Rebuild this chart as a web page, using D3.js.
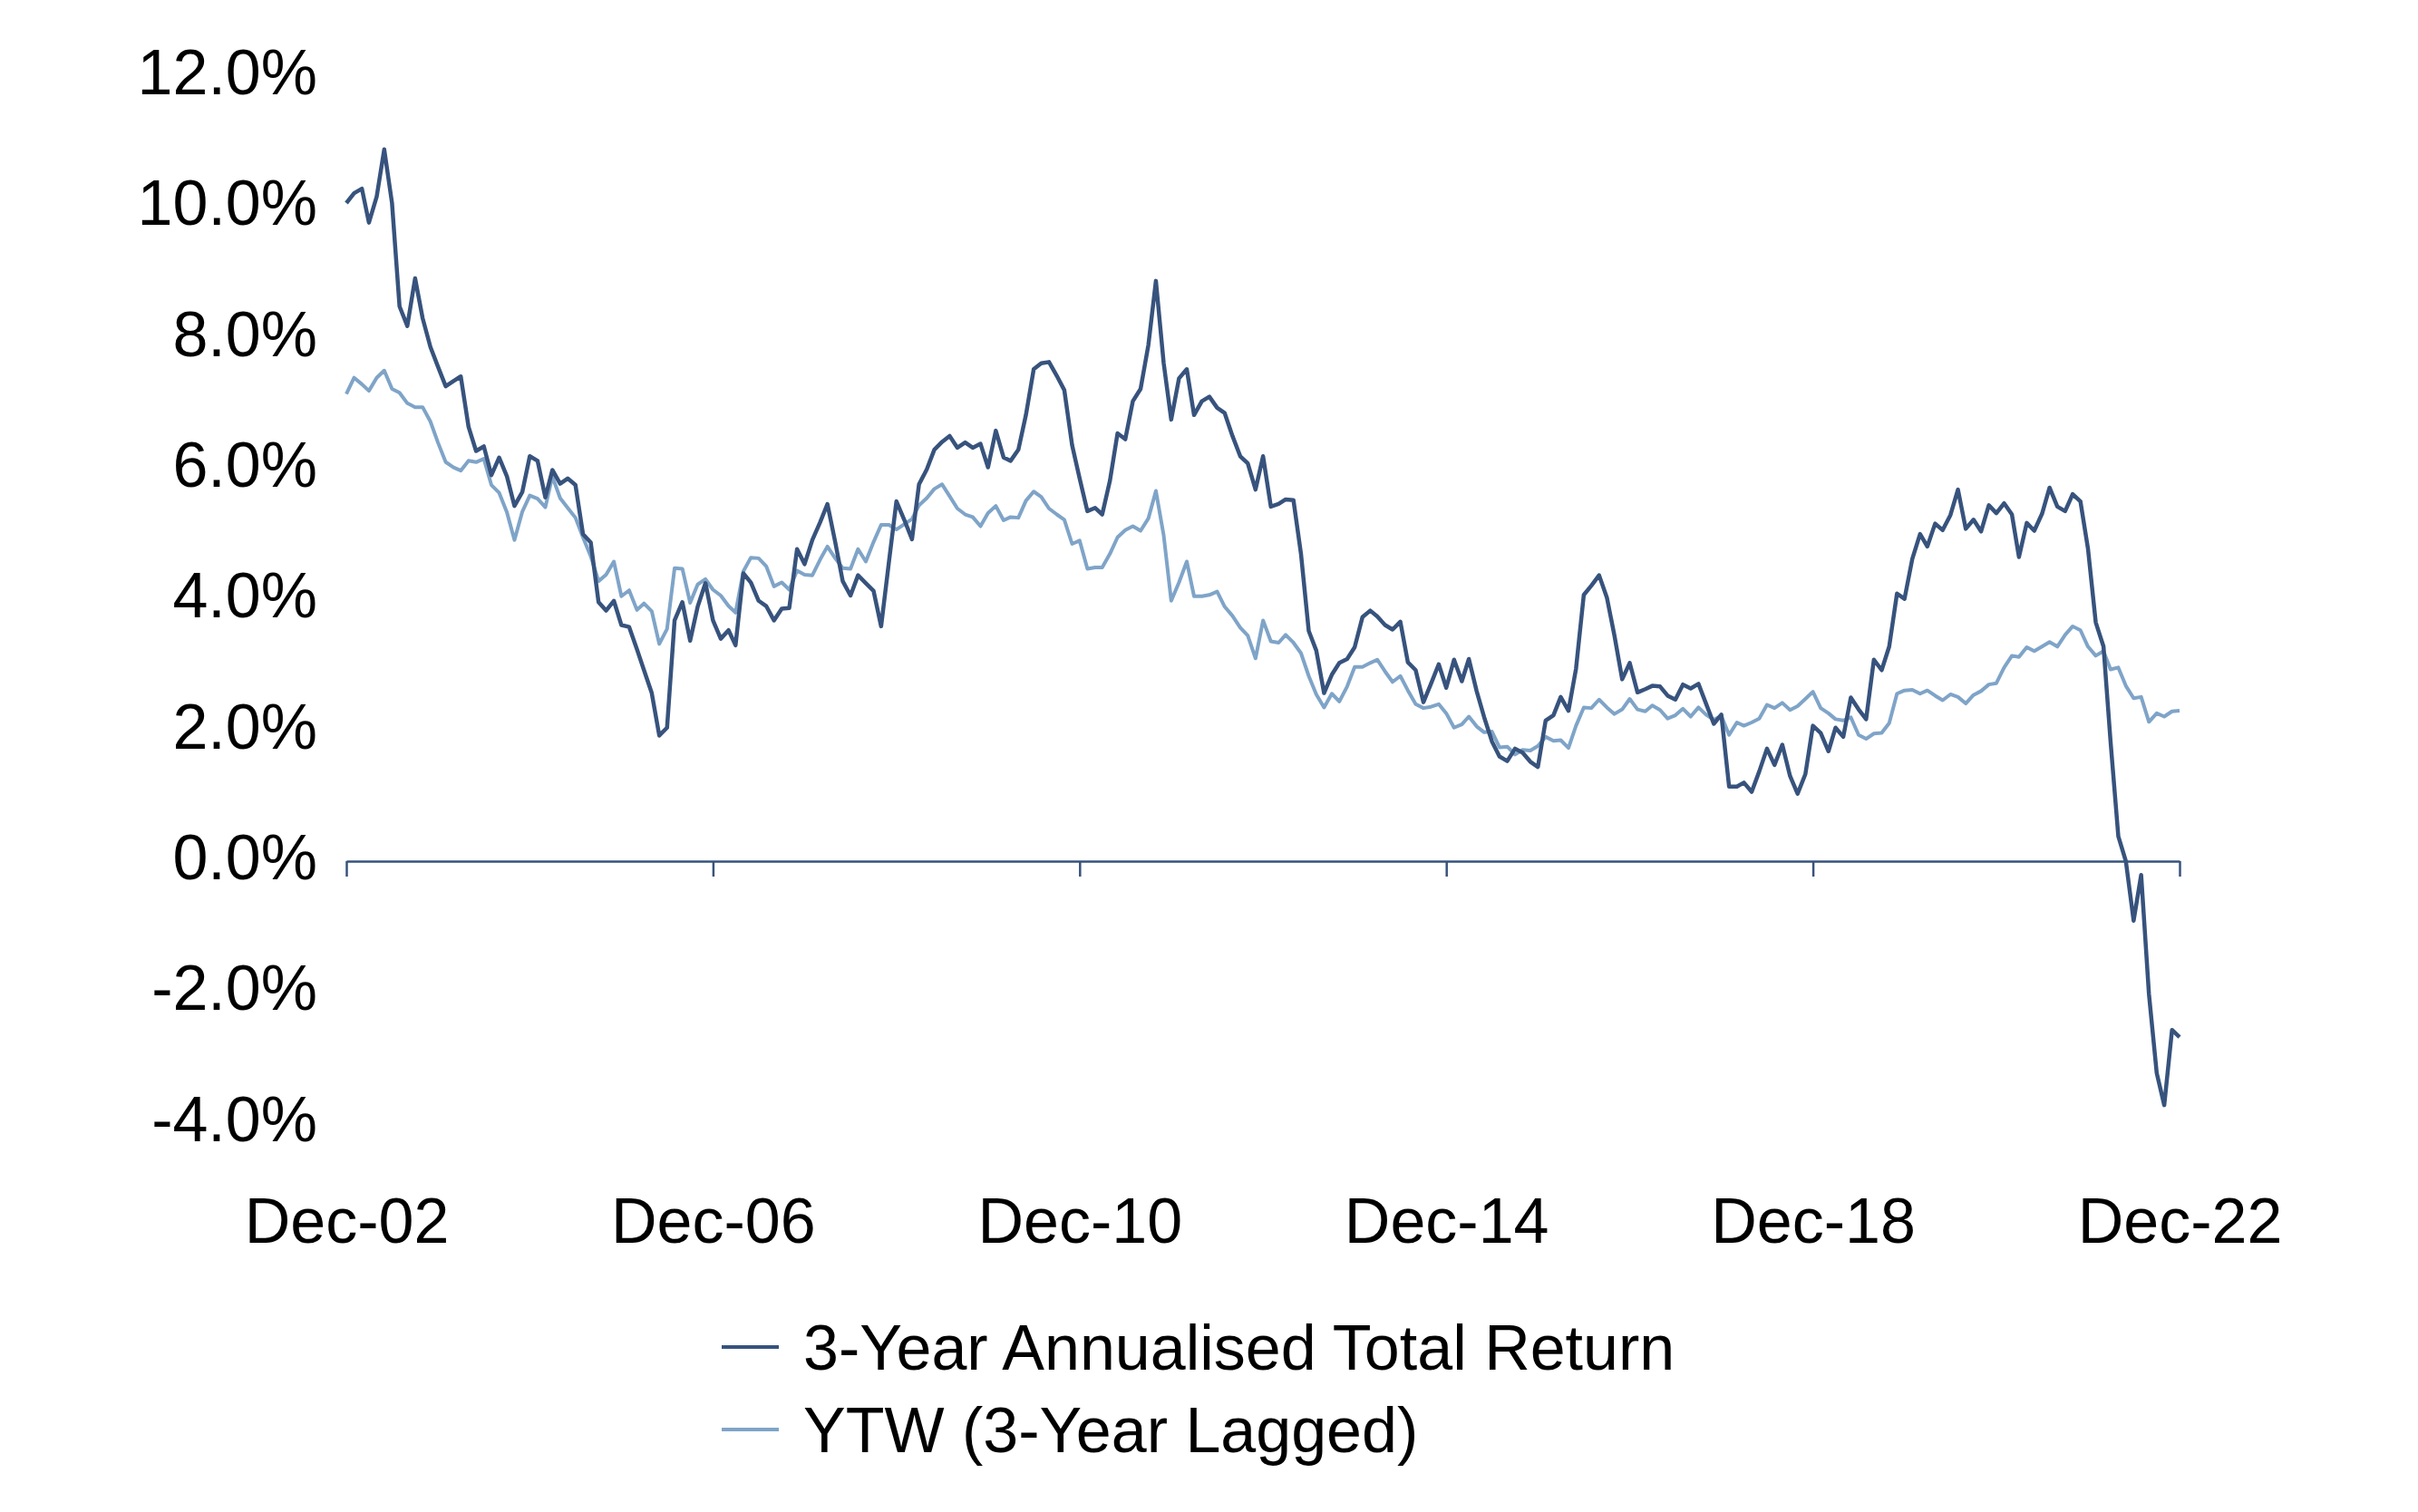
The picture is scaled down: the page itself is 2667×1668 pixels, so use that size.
<!DOCTYPE html>
<html>
<head>
<meta charset="utf-8">
<script src="https://cdn.jsdelivr.net/npm/d3@7"></script>
<style>
  body { margin: 0; background: #fff; }
  text { font-family: "Liberation Sans", Arial, sans-serif; fill: #000; }
</style>
</head>
<body>
<script>
// monthly observations, Dec-02 .. Dec-22
var startMonth = new Date(2002, 11, 1);

var totalReturn = [
  10.06, 10.21, 10.28, 9.76, 10.16, 10.88, 10.06, 8.48, 8.18, 8.91, 8.30, 7.86,
  7.56, 7.26, 7.34, 7.41, 6.64, 6.27, 6.34, 5.90, 6.17, 5.88, 5.43, 5.64,
  6.19, 6.12, 5.56, 5.98, 5.77, 5.85, 5.75, 5.00, 4.87, 3.96, 3.83, 3.98,
  3.61, 3.58, 3.24, 2.92, 2.57, 1.92, 2.04, 3.68, 3.96, 3.37, 3.89, 4.25,
  3.68, 3.40, 3.53, 3.30, 4.40, 4.26, 3.98, 3.90, 3.68, 3.86, 3.87, 4.77,
  4.54, 4.91, 5.18, 5.46, 4.88, 4.28, 4.06, 4.37, 4.25, 4.13, 3.59, 4.57,
  5.50, 5.22, 4.92, 5.76, 5.99, 6.29, 6.41, 6.50, 6.32, 6.40, 6.32, 6.38,
  6.02, 6.58, 6.17, 6.12, 6.29, 6.82, 7.52, 7.61, 7.63, 7.42, 7.20, 6.36,
  5.85, 5.35, 5.40, 5.30, 5.82, 6.54, 6.45, 7.03, 7.22, 7.89, 8.87, 7.61,
  6.75, 7.38, 7.52, 6.82, 7.03, 7.10, 6.93, 6.85, 6.50, 6.19, 6.08, 5.68,
  6.19, 5.42, 5.46, 5.53, 5.52, 4.70, 3.52, 3.22, 2.57, 2.85, 3.03, 3.09,
  3.27, 3.73, 3.83, 3.74, 3.61, 3.54, 3.66, 3.04, 2.92, 2.43, 2.71, 3.01,
  2.65, 3.08, 2.75, 3.09, 2.60, 2.20, 1.83, 1.60, 1.53, 1.72, 1.66, 1.52,
  1.44, 2.15, 2.23, 2.51, 2.30, 2.94, 4.07, 4.21, 4.37, 4.03, 3.45, 2.78,
  3.03, 2.58, 2.63, 2.68, 2.67, 2.53, 2.47, 2.70, 2.64, 2.71, 2.41, 2.10,
  2.24, 1.14, 1.14, 1.20, 1.06, 1.37, 1.72, 1.47, 1.78, 1.30, 1.03, 1.33,
  2.07, 1.96, 1.68, 2.04, 1.90, 2.50, 2.32, 2.17, 3.08, 2.92, 3.28, 4.09,
  4.01, 4.62, 5.00, 4.81, 5.16, 5.06, 5.29, 5.68, 5.08, 5.22, 5.04, 5.44,
  5.32, 5.47, 5.30, 4.65, 5.17, 5.05, 5.31, 5.71, 5.42, 5.35, 5.61, 5.50,
  4.78, 3.65, 3.28, 1.83, 0.38, 0.00, -0.91, -0.21, -2.03, -3.24, -3.73, -2.58,
  -2.69
];

var ytwLagged = [
  7.14, 7.39, 7.29, 7.19, 7.39, 7.50, 7.22, 7.16, 7.00, 6.94, 6.94, 6.72,
  6.40, 6.10, 6.02, 5.97, 6.12, 6.10, 6.15, 5.75, 5.63, 5.33, 4.91, 5.34,
  5.59, 5.54, 5.41, 5.88, 5.55, 5.40, 5.25, 4.95, 4.66, 4.28, 4.38, 4.58,
  4.05, 4.14, 3.84, 3.94, 3.82, 3.32, 3.55, 4.48, 4.47, 3.95, 4.23, 4.31,
  4.15, 4.06, 3.90, 3.80, 4.43, 4.64, 4.63, 4.51, 4.20, 4.26, 4.15, 4.44,
  4.38, 4.37, 4.61, 4.81, 4.63, 4.48, 4.47, 4.77, 4.58, 4.88, 5.14, 5.14,
  5.07, 5.15, 5.23, 5.44, 5.55, 5.69, 5.76, 5.58, 5.39, 5.30, 5.26, 5.12,
  5.32, 5.43, 5.21, 5.26, 5.25, 5.51, 5.65, 5.57, 5.39, 5.30, 5.22, 4.85,
  4.90, 4.47, 4.49, 4.49, 4.70, 4.95, 5.06, 5.12, 5.05, 5.24, 5.66, 4.98,
  3.98, 4.26, 4.58, 4.05, 4.05, 4.07, 4.12, 3.89, 3.75, 3.57, 3.45, 3.10,
  3.68, 3.36, 3.34, 3.46, 3.34, 3.18, 2.83, 2.55, 2.35, 2.56, 2.44, 2.67,
  2.97, 2.97, 3.03, 3.08, 2.90, 2.74, 2.83, 2.61, 2.40, 2.34, 2.36, 2.40,
  2.26, 2.04, 2.09, 2.21, 2.06, 1.97, 1.98, 1.74, 1.75, 1.63, 1.70, 1.69,
  1.76, 1.90, 1.84, 1.85, 1.73, 2.07, 2.35, 2.34, 2.47, 2.35, 2.25, 2.32,
  2.48, 2.32, 2.29, 2.38, 2.31, 2.18, 2.23, 2.33, 2.21, 2.35, 2.24, 2.16,
  2.22, 1.93, 2.12, 2.07, 2.12, 2.18, 2.39, 2.34, 2.42, 2.31, 2.37, 2.48,
  2.59, 2.34, 2.26, 2.17, 2.15, 2.20, 1.93, 1.87, 1.95, 1.96, 2.11, 2.56,
  2.61, 2.62, 2.56, 2.61, 2.53, 2.46, 2.55, 2.51, 2.41, 2.54, 2.60, 2.70,
  2.72, 2.96, 3.14, 3.12, 3.27, 3.21, 3.28, 3.35, 3.28, 3.46, 3.59, 3.53,
  3.28, 3.14, 3.21, 2.93, 2.96, 2.68, 2.49, 2.51, 2.13, 2.26, 2.21, 2.29,
  2.30
];

var xTickLabels = ["Dec-02", "Dec-06", "Dec-10", "Dec-14", "Dec-18", "Dec-22"];
var yTicks = [-4, -2, 0, 2, 4, 6, 8, 10, 12];
var seriesNames = ["3-Year Annualised Total Return", "YTW (3-Year Lagged)"];

function init() {
    var w = 2667;
    var h = 1668;
    var darkBlue = "#37537d";
    var lightBlue = "#7fa4c8";

    var dates = totalReturn.map(function (d, i) { return d3.timeMonth.offset(startMonth, i); });
    var parseTick = d3.timeParse("%b-%y");
    var tickDates = xTickLabels.map(function (t) { return parseTick(t); });

    var x = d3.scaleTime().domain([dates[0], dates[dates.length - 1]]).range([382, 2404]);
    var y = d3.scaleLinear().domain([0, 12]).range([950, 84]);

    var svg = d3.select("body").append("svg").attr("width", w).attr("height", h);

    // y labels
    var yAxis = svg.append("g").attr("transform", "translate(385,0)")
        .call(d3.axisLeft(y).tickValues(yTicks).tickSize(0).tickPadding(35)
            .tickFormat(function (d) { return d.toFixed(1) + "%"; }));
    yAxis.select(".domain").remove();
    yAxis.selectAll("text").style("font-size", "70px").attr("dy", "0.28em");

    // zero line with ticks
    var zeroAxis = svg.append("g").attr("transform", "translate(0," + y(0) + ")")
        .call(d3.axisBottom(x).tickValues(tickDates).tickSize(17).tickFormat("").tickSizeOuter(0));
    zeroAxis.select(".domain").attr("stroke", darkBlue).attr("stroke-width", 2.5);
    zeroAxis.selectAll(".tick line").attr("stroke", darkBlue).attr("stroke-width", 2.5);

    // x labels at bottom
    var xLabels = svg.append("g").attr("transform", "translate(0,1371)")
        .call(d3.axisBottom(x).tickValues(tickDates).tickSize(0).tickPadding(0)
            .tickFormat(function (d, i) { return xTickLabels[i]; }));
    xLabels.select(".domain").remove();
    xLabels.selectAll("text").style("font-size", "70px").attr("dy", 0).attr("y", 0);

    var line = d3.line()
        .x(function (d, i) { return x(dates[i]); })
        .y(function (d) { return y(d); });

    svg.append("path").datum(ytwLagged)
        .attr("d", line).attr("fill", "none")
        .attr("stroke", lightBlue).attr("stroke-width", 4).attr("stroke-linejoin", "round");

    svg.append("path").datum(totalReturn)
        .attr("d", line).attr("fill", "none")
        .attr("stroke", darkBlue).attr("stroke-width", 4.5).attr("stroke-linejoin", "round");

    // legend
    var legend = svg.append("g").attr("class", "legend");
    var colors = [darkBlue, lightBlue];
    seriesNames.forEach(function (name, i) {
        var ly = 1486 + i * 91;
        legend.append("line")
            .attr("x1", 796).attr("x2", 859).attr("y1", ly).attr("y2", ly)
            .attr("stroke", colors[i]).attr("stroke-width", 4);
        legend.append("text")
            .attr("x", 886).attr("y", ly + 25)
            .style("font-size", "70px")
            .text(name);
    });
}

window.onload = init;
</script>
</body>
</html>
